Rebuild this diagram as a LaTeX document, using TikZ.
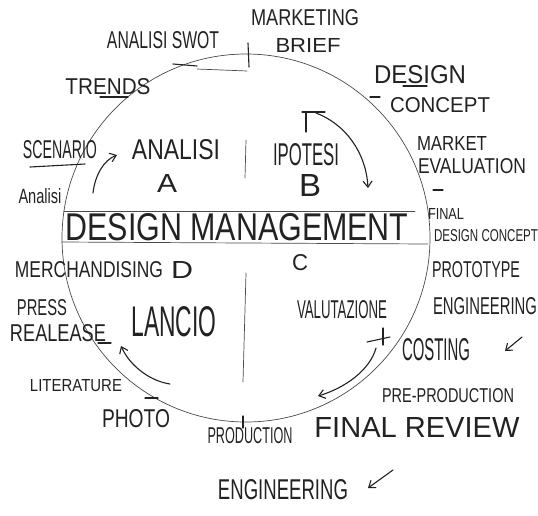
\documentclass[tikz,border=0pt]{standalone}
\usepackage{fontspec}
\setmainfont{Liberation Sans}
\usetikzlibrary{arrows.meta}
\newcommand{\hwtext}[3]{\resizebox{#1pt}{#2pt}{#3}}
\definecolor{ink}{HTML}{222222}
\definecolor{pencil}{HTML}{4A4A4A}
\begin{document}
\begin{tikzpicture}[x=1pt,y=-1pt,
  lab/.style={inner sep=0pt,text=ink},
  pen/.style={draw=ink,line width=1.1pt,line cap=round},
  thin/.style={draw=pencil,line width=0.7pt,line cap=round},
  barb/.style={pen,-{Straight Barb[length=6pt,width=9pt]}}]
\useasboundingbox[fill=white] (0,0) rectangle (538,515);
% circle and structure
\node[circle,draw=pencil,line width=0.7pt,minimum size=368pt,inner sep=0pt] (ring) at (246,238) {};
\coordinate (bandTL) at (64,211); \coordinate (bandTR) at (415,211);
\coordinate (bandBL) at (62,242); \coordinate (bandBR) at (428,244);
\draw[thin] (bandTL) -- (bandTR);
\draw[thin] (bandBL) -- (bandBR);
\coordinate (vUa) at (246,140); \coordinate (vUb) at (245,178);
\coordinate (vLa) at (246,273); \coordinate (vLb) at (243,382);
\draw[thin] (vUa) -- (vUb);
\draw[thin] (vLa) -- (vLb);
% labels
\node[lab] (swot) at (163,40) {\hwtext{112}{17}{ANALISI SWOT}};
\node[lab] (mkt) at (305,18) {\hwtext{108}{16}{MARKETING}};
\node[lab] (brief) at (308,45) {\hwtext{65}{14}{BRIEF}};
\node[lab] (trends) at (108,87) {\hwtext{85}{16}{TRENDS}};
\node[lab] (dsgn) at (420,75) {\hwtext{92}{18}{DESIGN}};
\node[lab] (concept) at (440,105) {\hwtext{100}{15}{CONCEPT}};
\node[lab] (scen) at (60,150) {\hwtext{74}{18}{SCENARIO}};
\node[lab] (anasmall) at (40,196) {\hwtext{43}{15}{Analisi}};
\node[lab] (ana) at (176,150) {\hwtext{88}{20}{ANALISI}};
\node[lab] (qa) at (167,183) {\hwtext{20}{18}{A}};
\node[lab] (ipo) at (306,155) {\hwtext{66}{22}{IPOTESI}};
\node[lab] (qb) at (310,185) {\hwtext{22}{22}{B}};
\node[lab] (market) at (452,143) {\hwtext{70}{14}{MARKET}};
\node[lab] (evalu) at (472,166) {\hwtext{108}{15}{EVALUATION}};
\node[lab] (dm) at (237,227) {\hwtext{343}{27}{DESIGN MANAGEMENT}};
\node[lab] (final) at (446,214) {\hwtext{36}{11}{FINAL}};
\node[lab] (fdc) at (486,236) {\hwtext{104}{12}{DESIGN CONCEPT}};
\node[lab] (qc) at (300,263) {\hwtext{16}{16}{C}};
\node[lab] (merch) at (89,270) {\hwtext{148}{16}{MERCHANDISING}};
\node[lab] (qd) at (182,270) {\hwtext{22}{17}{D}};
\node[lab] (proto) at (476,270) {\hwtext{88}{16}{PROTOTYPE}};
\node[lab] (lancio) at (174,322) {\hwtext{85}{30}{LANCIO}};
\node[lab] (valu) at (342,310) {\hwtext{90}{18}{VALUTAZIONE}};
\node[lab] (engr) at (485,306) {\hwtext{104}{17}{ENGINEERING}};
\node[lab] (press) at (42,308) {\hwtext{50}{16}{PRESS}};
\node[lab] (real) at (58,333) {\hwtext{96}{17}{REALEASE}};
\node[lab] (cost) at (436,350) {\hwtext{68}{22}{COSTING}};
\node[lab] (lit) at (76,386) {\hwtext{92}{12}{LITERATURE}};
\node[lab] (photo) at (136,419) {\hwtext{68}{18}{PHOTO}};
\node[lab] (prepro) at (448,396) {\hwtext{132}{14}{PRE-PRODUCTION}};
\node[lab] (prod) at (250,436) {\hwtext{85}{16}{PRODUCTION}};
\node[lab] (frev) at (417,427) {\hwtext{205}{20}{FINAL REVIEW}};
\node[lab] (engb) at (283,490) {\hwtext{130}{20}{ENGINEERING}};
% ticks and underlines
\coordinate (t1a) at (173,64); \coordinate (t1b) at (197,66);
\draw[pen] (t1a) -- (t1b);
\coordinate (t1c) at (197,69); \coordinate (t1d) at (247,71);
\draw[thin] (t1c) -- (t1d);
\coordinate (t2a) at (248,43); \coordinate (t2b) at (249,67);
\draw[pen] (t2a) -- (t2b);
\coordinate (u1a) at (100,97); \coordinate (u1b) at (128,97);
\draw[pen] (u1a) -- (u1b);
\coordinate (u2a) at (403,86); \coordinate (u2b) at (427,86);
\draw[pen] (u2a) -- (u2b);
\coordinate (t3a) at (370,97); \coordinate (t3b) at (380,97);
\draw[pen] (t3a) -- (t3b);
\coordinate (u3a) at (30,167); \coordinate (u3b) at (85,164);
\draw[pen] (u3a) -- (u3b);
\coordinate (t4a) at (433,190); \coordinate (t4b) at (443,190);
\draw[pen] (t4a) -- (t4b);
\coordinate (t5a) at (98,343); \coordinate (t5b) at (111,343);
\draw[pen] (t5a) -- (t5b);
\coordinate (t6a) at (145,398); \coordinate (t6b) at (158,398);
\draw[pen] (t6a) -- (t6b);
\coordinate (t7a) at (243,416); \coordinate (t7b) at (243,428);
\draw[pen] (t7a) -- (t7b);
\coordinate (t8a) at (383,328); \coordinate (t8b) at (383,345);
\draw[pen] (t8a) -- (t8b);
\coordinate (t8c) at (367,342); \coordinate (t8d) at (390,337);
\draw[pen] (t8c) -- (t8d);
% T bar and arrows
\coordinate (tba) at (302,112); \coordinate (tbb) at (325,112);
\coordinate (tsa) at (306,112); \coordinate (tsb) at (306,132);
\draw[pen] (tba) -- (tbb);
\draw[pen] (tsa) -- (tsb);
\coordinate (a1s) at (316,113); \coordinate (a1e) at (368,188);
\draw[barb] (a1s) .. controls (345,124) and (366,152) .. (a1e);
\coordinate (a2s) at (93,193); \coordinate (a2e) at (117,155);
\draw[barb] (a2s) .. controls (95,175) and (104,160) .. (a2e);
\coordinate (a3s) at (170,384); \coordinate (a3e) at (121,346);
\draw[barb] (a3s) .. controls (150,381) and (130,366) .. (a3e);
\coordinate (a4s) at (376,348); \coordinate (a4e) at (318,396);
\draw[barb] (a4s) .. controls (370,370) and (345,388) .. (a4e);
\coordinate (a5s) at (393,470); \coordinate (a5e) at (368,488);
\draw[barb] (a5s) -- (a5e);
\coordinate (a6s) at (522,337); \coordinate (a6e) at (505,351);
\draw[barb] (a6s) -- (a6e);
\end{tikzpicture}
\end{document}
